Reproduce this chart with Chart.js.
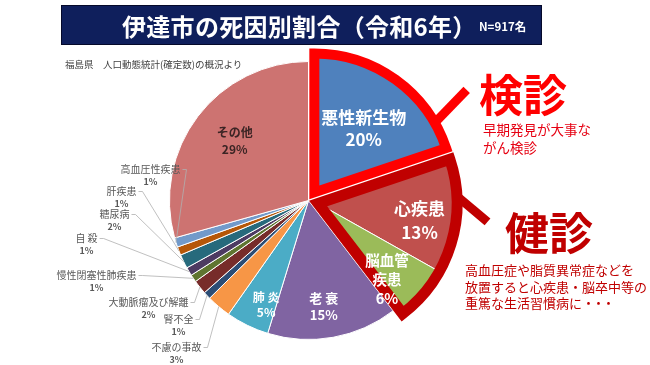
<!DOCTYPE html>
<html lang="ja">
<head>
<meta charset="utf-8">
<title>伊達市の死因別割合（令和6年）</title>
<script src="https://cdn.jsdelivr.net/npm/chart.js@4.4.1/dist/chart.umd.min.js"></script>
<style>
  body { margin: 0; background: #fff; font-family: "Noto Sans CJK JP", "Noto Sans", sans-serif; }
  .wrap { position: relative; width: 650px; height: 365px; overflow: hidden; }
  #deathChart { position: absolute; left: 0; top: 0; }
  .header { position: absolute; left: 61px; top: 5px; width: 481px; height: 40px; background: #0f1f5c; border: 1px solid #05092a; box-sizing: border-box; color: #fff; }
  .header h1 { position: absolute; left: 60px; top: 0; margin: 0; font-size: 24px; line-height: 40px; font-weight: 700; white-space: nowrap; letter-spacing: 0.3px; }
  .header .n { position: absolute; left: 417px; top: 0; font-size: 11.5px; line-height: 40px; font-weight: 700; }
  .source { position: absolute; left: 65px; top: 58px; font-size: 9.5px; line-height: 13px; color: #404040; white-space: nowrap; }
  .big { position: absolute; font-size: 44px; line-height: 44px; font-weight: 700; white-space: nowrap; }
  .note { position: absolute; font-size: 13.5px; line-height: 18px; white-space: nowrap; }
  .dots { letter-spacing: -3px; }
</style>
</head>
<body>
<div class="wrap">
  <canvas id="deathChart" width="650" height="365"></canvas>
  <div class="header"><h1>伊達市の死因別割合（令和6年）</h1><span class="n">N=917名</span></div>
  <div class="source">福島県　人口動態統計(確定数)の概況より</div>
  <div class="big" style="left:479px; top:71px; color:#ff0000;">検診</div>
  <div class="note" style="left:483px; top:120px; color:#e60012;">早期発見が大事な<br>がん検診</div>
  <div class="big" style="left:505px; top:209px; color:#c00000;">健診</div>
  <div class="note" style="left:465px; top:262px; font-size:13px; line-height:16.5px; color:#c00000;">高血圧症や脂質異常症などを<br>放置すると心疾患・脳卒中等の<br>重篤な生活習慣病に<span class="dots">・・・</span></div>
</div>
<script>
const total = 917;
const categories = ["悪性新生物", "心疾患", "脳血管疾患", "老衰", "肺炎", "不慮の事故", "腎不全",
  "大動脈瘤及び解離", "慢性閉塞性肺疾患", "自殺", "糖尿病", "肝疾患", "高血圧性疾患", "その他"];
// deaths (they round to the printed percentages)
const deaths = [182, 122, 59, 139, 46, 26, 8, 15, 8, 9, 15, 9, 10, 269];
const displayNames = ["悪性新生物", "心疾患", "脳血管\n疾患", "老 衰", "肺 炎", "不慮の事故", "腎不全",
  "大動脈瘤及び解離", "慢性閉塞性肺疾患", "自 殺", "糖尿病", "肝疾患", "高血圧性疾患", "その他"];
const sliceColors = ["#4F81BD", "#C0504D", "#9BBB59", "#8064A2", "#4BACC6", "#F79646", "#2C4D75",
  "#772C2A", "#5F7530", "#4D3B62", "#276A7C", "#B65708", "#729ACA", "#CD7371"];

const FONT = "'Noto Sans CJK JP', sans-serif";

// labels drawn inside the slice: radius fraction, angle nudge (deg), font size, colour, line gap
const innerLabels = {
  0: { r: 0.58, nudge: 2, size: 17, color: "#fff", gap: 22 },
  1: { r: 0.74, nudge: 4, size: 17, color: "#fff", gap: 24 },
  2: { r: 0.74, nudge: 7, size: 14.5, color: "#fff", gap: 19 },
  3: { r: 0.77, nudge: 2, size: 13, color: "#fff", gap: 17 },
  4: { r: 0.81, nudge: -4, size: 12, color: "#fff", gap: 15 },
  13: { r: 0.68, nudge: 1.5, size: 12, color: "#3b2424", gap: 17 }
};
// labels outside with a leader line: offset of the label from the pie centre
const outerLabels = {
  12: [-158, -31], 11: [-187, -9], 10: [-194, 14], 9: [-222, 38],
  8: [-212, 75], 7: [-160, 102], 6: [-130, 119], 5: [-132, 147]
};

function pct(i) {
  return Math.round(deaths[i] / total * 100) + "%";
}

function shiftArcs(group, dist) {
  const mid = (group[0].startAngle + group[group.length - 1].endAngle) / 2;
  group.forEach(a => {
    a.x += Math.cos(mid) * dist;
    a.y += Math.sin(mid) * dist;
  });
}

function outline(ctx, first, last, color, width) {
  ctx.save();
  ctx.beginPath();
  ctx.moveTo(first.x, first.y);
  ctx.arc(first.x, first.y, first.outerRadius, first.startAngle, last.endAngle);
  ctx.closePath();
  ctx.strokeStyle = color;
  ctx.lineWidth = width;
  ctx.lineJoin = "miter";
  ctx.stroke();
  ctx.restore();
}

function bar(ctx, arc, atDeg, dirDeg, len, color, width) {
  const t = atDeg * Math.PI / 180;
  const d = dirDeg * Math.PI / 180;
  const sx = arc.x + Math.cos(t) * arc.outerRadius;
  const sy = arc.y + Math.sin(t) * arc.outerRadius;
  ctx.save();
  ctx.beginPath();
  ctx.moveTo(sx, sy);
  ctx.lineTo(sx + Math.cos(d) * len, sy + Math.sin(d) * len);
  ctx.strokeStyle = color;
  ctx.lineWidth = width;
  ctx.stroke();
  ctx.restore();
}

const calloutPlugin = {
  id: "callouts",
  afterUpdate(chart) {
    const arcs = chart.getDatasetMeta(0).data;
    shiftArcs([arcs[0]], 10);
    shiftArcs([arcs[1], arcs[2]], 10);
  },
  afterDatasetsDraw(chart) {
    const ctx = chart.ctx;
    const arcs = chart.getDatasetMeta(0).data;
    const base = arcs[3];

    // highlight frames and pointer bars
    outline(ctx, arcs[1], arcs[2], "#C00000", 11);
    bar(ctx, arcs[1], -3, 40, 40, "#C00000", 9);
    outline(ctx, arcs[0], arcs[0], "#FF0000", 10);
    bar(ctx, arcs[0], -30, -46, 46, "#FF0000", 9);

    ctx.save();
    ctx.textAlign = "center";
    ctx.textBaseline = "middle";
    Object.keys(innerLabels).forEach(k => {
      const i = Number(k);
      const s = innerLabels[i];
      const a = arcs[i];
      const mid = (a.startAngle + a.endAngle) / 2 + s.nudge * Math.PI / 180;
      const x = a.x + Math.cos(mid) * a.outerRadius * s.r;
      const y = a.y + Math.sin(mid) * a.outerRadius * s.r;
      const lines = displayNames[i].split("\n").concat(pct(i));
      ctx.fillStyle = s.color;
      ctx.font = "bold " + s.size + "px " + FONT;
      const top = y - (lines.length - 1) * s.gap / 2;
      lines.forEach((t, j) => ctx.fillText(t, x, top + j * s.gap));
    });

    Object.keys(outerLabels).forEach(k => {
      const i = Number(k);
      const a = arcs[i];
      const lx = base.x + outerLabels[i][0];
      const ly = base.y + outerLabels[i][1];
      ctx.font = "10px " + FONT;
      const w = ctx.measureText(displayNames[i]).width;
      const mid = (a.startAngle + a.endAngle) / 2;
      const ex = a.x + Math.cos(mid) * a.outerRadius;
      const ey = a.y + Math.sin(mid) * a.outerRadius;
      ctx.beginPath();
      ctx.moveTo(lx + w / 2 + 2, ly);
      ctx.lineTo(lx + w / 2 + 6, ly);
      ctx.lineTo(ex, ey);
      ctx.strokeStyle = "#b0b0b0";
      ctx.lineWidth = 0.8;
      ctx.stroke();
      ctx.fillStyle = "#595959";
      ctx.fillText(displayNames[i], lx, ly);
      ctx.font = "bold 9px " + FONT;
      ctx.fillText(pct(i), lx, ly + 12);
    });
    ctx.restore();
  }
};

new Chart(document.getElementById("deathChart"), {
  type: "pie",
  data: {
    labels: categories,
    datasets: [{
      data: deaths,
      backgroundColor: sliceColors,
      borderColor: "#ffffff",
      borderWidth: 1
    }]
  },
  options: {
    responsive: false,
    animation: false,
    events: [],
    layout: { padding: { left: 169, right: 202, top: 61, bottom: 25 } },
    plugins: {
      legend: { display: false },
      title: { display: false },
      tooltip: { enabled: false }
    }
  },
  plugins: [calloutPlugin]
});
</script>
</body>
</html>
